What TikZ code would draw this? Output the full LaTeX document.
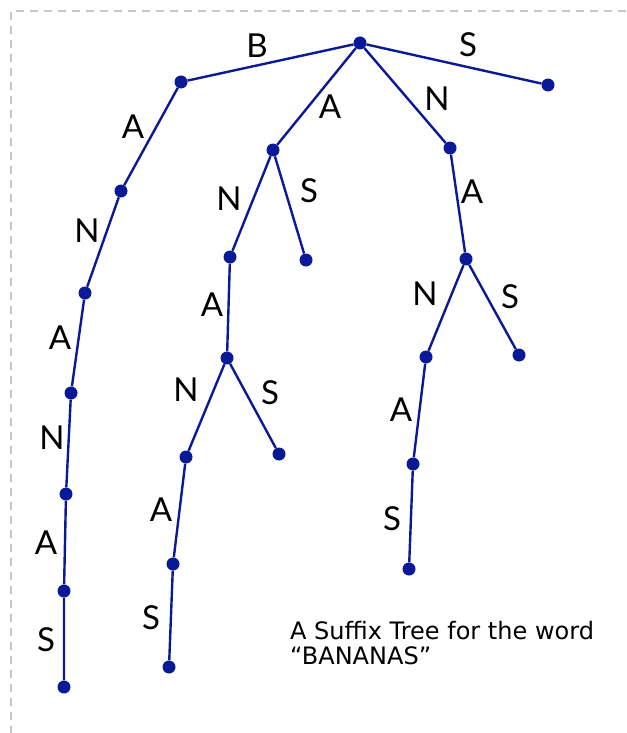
\documentclass[tikz,border=0pt]{standalone}
\usepackage{fontspec}
\setmainfont{Lato}
\newfontfamily\capfont{DejaVu Sans}
\begin{document}
\begin{tikzpicture}[x=1pt,y=-1pt,
  dot/.style={circle,fill=treeblue,inner sep=0pt,minimum size=13pt},
  edge/.style={draw=treeblue,line width=2.4pt},
  lab/.style={font=\fontsize{33}{33}\selectfont,inner sep=0pt},
  frame/.style={draw=black!22,line width=1.3pt,dash pattern=on 8pt off 6pt}]
\definecolor{treeblue}{RGB}{10,25,150}
\useasboundingbox (0,0) rectangle (626,733);
\coordinate (f1) at (626,11);
\coordinate (f2) at (11,11);
\coordinate (f3) at (11,733);
\draw[frame] (f1) -- (f2) -- (f3);
% nodes
\node[dot] (r) at (360,43) {};
\node[dot] (b) at (181,82) {};
\node[dot] (s) at (548,85) {};
\node[dot] (a) at (273,150) {};
\node[dot] (n) at (450,148) {};
% left chain
\node[dot] (l1) at (121,191) {};
\node[dot] (l2) at (85,293) {};
\node[dot] (l3) at (71,393) {};
\node[dot] (l4) at (66,494) {};
\node[dot] (l5) at (64,591) {};
\node[dot] (l6) at (64,687) {};
% A subtree
\node[dot] (an) at (230,257) {};
\node[dot] (as) at (306,260) {};
\node[dot] (ana) at (227,358) {};
\node[dot] (anan) at (186,457) {};
\node[dot] (anas) at (279,454) {};
\node[dot] (anana) at (173,564) {};
\node[dot] (ananas) at (169,667) {};
% N subtree
\node[dot] (na) at (466,259) {};
\node[dot] (nan) at (426,357) {};
\node[dot] (nas) at (519,355) {};
\node[dot] (nana) at (413,464) {};
\node[dot] (nanas) at (409,569) {};
% edges
\draw[edge] (r) -- (b);
\draw[edge] (r) -- (s);
\draw[edge] (r) -- (a);
\draw[edge] (r) -- (n);
\draw[edge] (b) -- (l1) -- (l2) -- (l3) -- (l4) -- (l5) -- (l6);
\draw[edge] (a) -- (an) -- (ana) -- (anan) -- (anana) -- (ananas);
\draw[edge] (a) -- (as);
\draw[edge] (ana) -- (anas);
\draw[edge] (n) -- (na) -- (nan) -- (nana) -- (nanas);
\draw[edge] (na) -- (nas);
% labels
\node[lab] (tB) at (257,46) {B};
\node[lab] (tS) at (468,45) {S};
\node[lab] (tA) at (330,107) {A};
\node[lab] (tN) at (437,99) {N};
\node[lab] (t1) at (133,127) {A};
\node[lab] (t2) at (87,231) {N};
\node[lab] (t3) at (60,338) {A};
\node[lab] (t4) at (52,438) {N};
\node[lab] (t5) at (46,543) {A};
\node[lab] (t6) at (46,640) {S};
\node[lab] (t7) at (229,199) {N};
\node[lab] (t8) at (309,191) {S};
\node[lab] (t9) at (212,305) {A};
\node[lab] (t10) at (186,390) {N};
\node[lab] (t11) at (270,393) {S};
\node[lab] (t12) at (161,510) {A};
\node[lab] (t13) at (151,618) {S};
\node[lab] (t14) at (472,192) {A};
\node[lab] (t15) at (425,294) {N};
\node[lab] (t16) at (510,297) {S};
\node[lab] (t17) at (401,410) {A};
\node[lab] (t18) at (392,519) {S};
\node[anchor=base west,align=left,inner sep=0pt,font=\capfont\fontsize{24}{25}\selectfont] (cap) at (290,664) {A Suffix Tree for the word\\“BANANAS”};
\end{tikzpicture}
\end{document}
